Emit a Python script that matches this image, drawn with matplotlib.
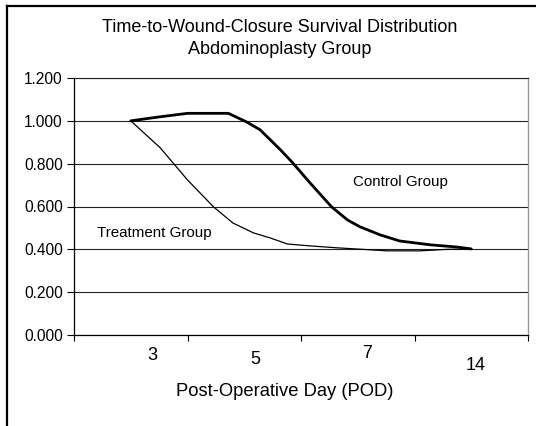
import numpy as np
import matplotlib
matplotlib.use("Agg")
import matplotlib.pyplot as plt
from matplotlib.lines import Line2D
from matplotlib.transforms import blended_transform_factory

plt.rcParams["font.family"] = ["Liberation Sans", "DejaVu Sans"]

# Data (x in category units: 0 = POD 3, 1 = POD 5, 2 = POD 7, 3 = POD 14)
day_labels = ["3", "5", "7", "14"]
label_x = [0.19, 1.10, 2.08, 3.04]
label_y_px = [355, 359, 354, 365]  # the day labels were placed by hand

control_x = [0.00, 0.26, 0.50, 0.86, 1.02, 1.14, 1.32, 1.42, 1.58, 1.77,
             1.91, 2.02, 2.20, 2.37, 2.64, 2.87, 3.00]
control_y = [1.000, 1.019, 1.035, 1.035, 0.995, 0.958, 0.864, 0.808, 0.710,
             0.598, 0.537, 0.505, 0.467, 0.439, 0.421, 0.411, 0.402]

treatment_x = [0.00, 0.26, 0.50, 0.73, 0.90, 1.08, 1.23, 1.38, 1.58, 1.82,
               2.26, 2.55, 2.79, 3.00]
treatment_y = [1.000, 0.874, 0.724, 0.598, 0.523, 0.477, 0.453, 0.425,
               0.416, 0.407, 0.393, 0.393, 0.400, 0.402]

y_ticks = [0.0, 0.2, 0.4, 0.6, 0.8, 1.0, 1.2]

fig = plt.figure(figsize=(5.36, 4.26), dpi=100)
ax = fig.add_axes([74 / 536, 1 - 335 / 426, 454 / 536, 257 / 426])

ax.plot(treatment_x, treatment_y, color="black", lw=0.9, solid_capstyle="round",
        solid_joinstyle="round")
ax.plot(control_x, control_y, color="black", lw=2.0, solid_capstyle="round",
        solid_joinstyle="round")

ax.set_xlim(-0.5, 3.5)
ax.set_ylim(0, 1.2)
ax.set_yticks(y_ticks)
ax.set_yticklabels([f"{v:.3f}" for v in y_ticks], fontsize=11.2)
ax.set_xticks(np.arange(-0.5, 3.6, 1.0))
ax.set_xticklabels([])
ax.tick_params(axis="y", length=5, width=0.8, pad=3)
ax.tick_params(axis="x", length=4, width=0.8)
ax.grid(axis="y", color="#222222", lw=0.8)
ax.set_axisbelow(True)

for side in ["left", "bottom"]:
    ax.spines[side].set_color("black")
    ax.spines[side].set_linewidth(0.9)
ax.spines["right"].set_color("#999999")
ax.spines["top"].set_color("#222222")
ax.spines["right"].set_linewidth(1.0)
ax.spines["top"].set_linewidth(0.8)

# hand-placed day labels under the axis
trans = blended_transform_factory(ax.transData, fig.transFigure)
for lab, lx, ly in zip(day_labels, label_x, label_y_px):
    ax.text(lx, 1 - ly / 426, lab, transform=trans, ha="center", va="center",
            fontsize=13)

fig.text(285 / 536, 1 - 392 / 426, "Post-Operative Day (POD)", ha="center",
         va="center", fontsize=13.2)
fig.text(280 / 536, 1 - 28 / 426, "Time-to-Wound-Closure Survival Distribution",
         ha="center", va="center", fontsize=13)
fig.text(280 / 536, 1 - 49 / 426, "Abdominoplasty Group", ha="center",
         va="center", fontsize=13)

ax.text(400 / 536, 1 - 182 / 426, "Control Group", transform=fig.transFigure,
        ha="center", va="center", fontsize=10.9)
ax.text(154 / 536, 1 - 233 / 426, "Treatment Group", transform=fig.transFigure,
        ha="center", va="center", fontsize=10.9)

# outer chart frame (only left and top edges are inside the image)
fig.add_artist(Line2D([7 / 536, 7 / 536], [0, 1 - 6 / 426], color="black", lw=1.6,
                      transform=fig.transFigure))
fig.add_artist(Line2D([7 / 536, 1], [1 - 6 / 426, 1 - 6 / 426], color="black",
                      lw=1.6, transform=fig.transFigure))

fig.savefig("out.png", dpi=100)
